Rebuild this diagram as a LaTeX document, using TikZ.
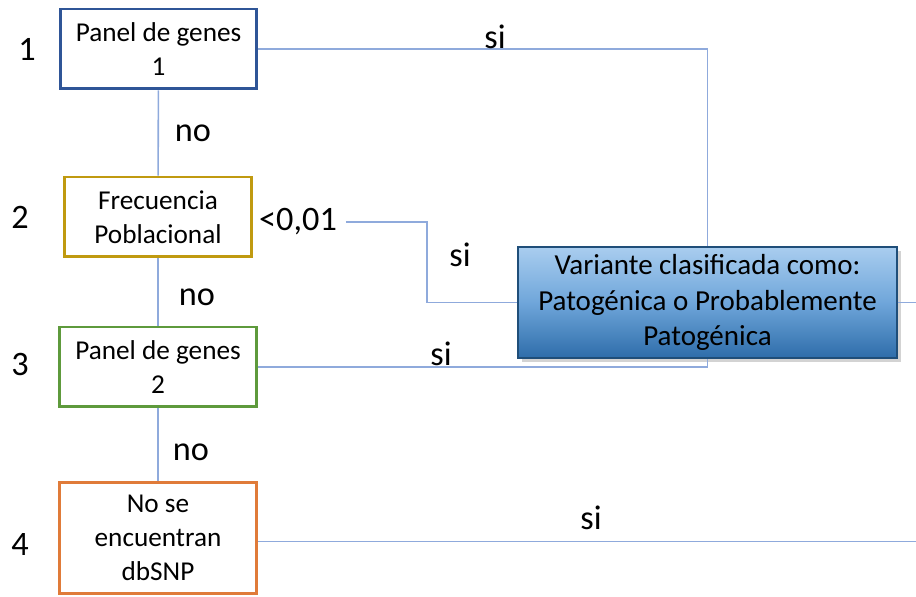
\documentclass[tikz,border=0pt]{standalone}
\usepackage{fontspec}
\setmainfont{Carlito}
\usetikzlibrary{calc,shadows}
\definecolor{linkblue}{HTML}{8FAADC}
\definecolor{boxblue}{HTML}{2F5597}
\definecolor{boxgold}{HTML}{C09A10}
\definecolor{boxgreen}{HTML}{5E9A3C}
\definecolor{boxorange}{HTML}{E07B39}
\definecolor{restop}{HTML}{A9CDEF}
\definecolor{resmid}{HTML}{6FA6DA}
\definecolor{resbot}{HTML}{2E6DAA}
\definecolor{resdark}{HTML}{1F4E79}
\begin{document}
\begin{tikzpicture}[
  x=0.02cm, y=-0.02cm,
  stepbox/.style={draw, fill=white, line width=1.7pt, align=center,
    font=\fontsize{15.5}{19.4}\selectfont, inner sep=0pt},
  result/.style={draw=resdark, line width=0.8pt, top color=restop,
    bottom color=resbot, middle color=resmid,
    align=center, minimum width=7.58cm, minimum height=2.22cm,
    font=\fontsize{16.5}{20}\selectfont, drop shadow={opacity=0.35}},
  link/.style={draw=linkblue, line width=0.9pt},
  tag/.style={font=\fontsize{19.5}{22}\selectfont},
]
  \useasboundingbox (0,0) rectangle (916,597);

  % Free ends at the right edge
  \coordinate (outA) at (916,302);
  \coordinate (outB) at (916,540);

  % Steps
  \node[stepbox, draw=boxblue, minimum width=3.94cm, minimum height=1.6cm]
    (gen1) at (158.5,49) {Panel de genes\\1};
  \node[stepbox, draw=boxgold, minimum width=3.76cm, minimum height=1.6cm]
    (freq) at (158,217) {Frecuencia\\Poblacional};
  \node[stepbox, draw=boxgreen, minimum width=3.96cm, minimum height=1.6cm]
    (gen2) at (158,367) {Panel de genes\\2};
  \node[stepbox, draw=boxorange, minimum width=3.96cm, minimum height=2.24cm]
    (dbsnp) at (158,538) {No se\\encuentran\\dbSNP};

  % Result
  \node[result] (res) at (707.5,302.5)
    {Variante clasificada como:\\Patogénica o Probablemente\\Patogénica};

  % Threshold label
  \node[tag, inner sep=0pt] (thr) at (298,222) {<0,01};

  % Links
  \draw[link] (gen1) -- (freq);
  \draw[link] (freq) -- (gen2);
  \draw[link] (gen2) -- (dbsnp);
  \draw[link] (gen1.east) -| (res.north);
  \draw[link] ([xshift=5pt]thr.east) -| ($(thr.east)!.5!(res.west)$) |- (res.west);
  \draw[link] (gen2.east) -| (res.south);
  \draw[link] (res.east) -- (res.east -| outA);
  \draw[link] ([yshift=-2pt]dbsnp.east) -- ([yshift=-2pt]dbsnp.east -| outB);

  % Answers
  \node[tag] (si1) at (495,37) {si};
  \node[tag] (no1) at (193,133) {no};
  \node[tag] (no2) at (197,297) {no};
  \node[tag] (no3) at (191,452) {no};
  \node[tag] (si2) at (460,255) {si};
  \node[tag] (si3) at (441,354) {si};
  \node[tag] (si4) at (591,518) {si};

  % Step numbers
  \node[tag] (n1) at (27,49) {1};
  \node[tag] (n2) at (20,217) {2};
  \node[tag] (n3) at (20,365) {3};
  \node[tag] (n4) at (20,545) {4};

\end{tikzpicture}
\end{document}
